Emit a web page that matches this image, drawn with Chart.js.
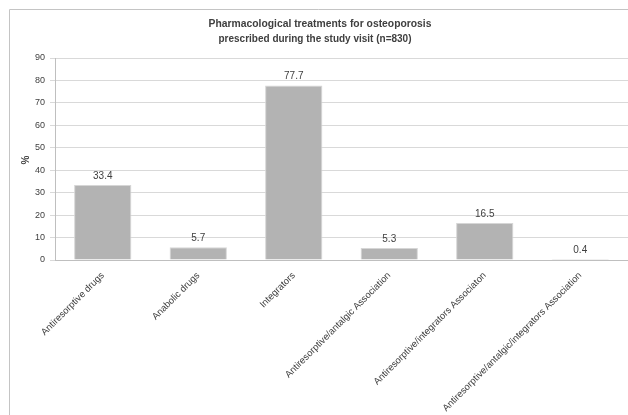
<!DOCTYPE html>
<html>
<head>
<meta charset="utf-8">
<script src="https://cdn.jsdelivr.net/npm/chart.js@4"></script>
<style>
  html, body { margin: 0; padding: 0; background: #fff; overflow: hidden; }
  #wrap { width: 628px; height: 415px; position: relative; }
</style>
</head>
<body>
<div id="wrap"><canvas id="osteo" width="628" height="415"></canvas></div>
<script>
const categories = [
  'Antiresorptive drugs',
  'Anabolic drugs',
  'Integrators',
  'Antiresorptive/antalgic Association',
  'Antiresorptive/integrators Associaton',
  'Antiresorptive/antalgic/integrators Association'
]
const percentages = [33.4, 5.7, 77.7, 5.3, 16.5, 0.4]
const titleLines = ['Pharmacological treatments for osteoporosis', 'prescribed during the study visit (n=830)']
const yTitle = '%'

const font = '"Liberation Sans", Arial, sans-serif'

// frame, title, axis title and value labels
const decorations = {
  id: 'decorations',
  beforeDraw(chart) {
    const ctx = chart.ctx
    ctx.save()
    ctx.strokeStyle = '#c4c4c4'
    ctx.lineWidth = 1
    ctx.beginPath()
    ctx.moveTo(9.5, 415)
    ctx.lineTo(9.5, 9.5)
    ctx.lineTo(628, 9.5)
    ctx.stroke()
    ctx.restore()
  },
  afterDraw(chart) {
    const ctx = chart.ctx
    ctx.save()
    ctx.fillStyle = '#404040'
    ctx.font = 'bold 11.5px ' + font
    ctx.textAlign = 'center'
    ctx.textBaseline = 'middle'
    ctx.fillText(titleLines[0], 320, 24, 223)
    ctx.fillText(titleLines[1], 315, 39, 193)

    ctx.translate(26, 160)
    ctx.rotate(-Math.PI / 2)
    ctx.font = 'bold 10px ' + font
    ctx.fillText(yTitle, 0, 0)
    ctx.restore()

    ctx.save()
    ctx.fillStyle = '#404040'
    ctx.font = '10px ' + font
    ctx.textAlign = 'center'
    ctx.textBaseline = 'bottom'
    const meta = chart.getDatasetMeta(0)
    meta.data.forEach((bar, i) => {
      ctx.fillText(percentages[i].toFixed(1), bar.x, bar.y - 4)
    })
    ctx.restore()
  }
}

new Chart(document.querySelector('#osteo'), {
  type: 'bar',
  data: {
    labels: categories,
    datasets: [{
      data: percentages,
      backgroundColor: '#b3b3b3',
      borderColor: '#d6d6d6',
      borderWidth: 1,
      barPercentage: 0.6,
      categoryPercentage: 1
    }]
  },
  options: {
    responsive: false,
    animation: false,
    layout: { padding: { top: 58, left: 0, right: 0, bottom: 0 } },
    plugins: {
      legend: { display: false },
      tooltip: { enabled: false }
    },
    scales: {
      x: {
        grid: { display: false },
        border: { color: '#bfbfbf' },
        ticks: {
          color: '#404040',
          font: { family: font, size: 9.5 },
          minRotation: 45,
          maxRotation: 45,
          autoSkip: false,
          padding: 2
        },
        afterFit(scale) { scale.height = 155 }
      },
      y: {
        min: 0,
        max: 90,
        ticks: {
          stepSize: 10,
          color: '#404040',
          font: { family: font, size: 9 },
          padding: 5
        },
        grid: { color: '#d9d9d9', tickLength: 5 },
        border: { color: '#bfbfbf' },
        afterFit(scale) { scale.width = 55 }
      }
    }
  },
  plugins: [decorations]
})
</script>
</body>
</html>
